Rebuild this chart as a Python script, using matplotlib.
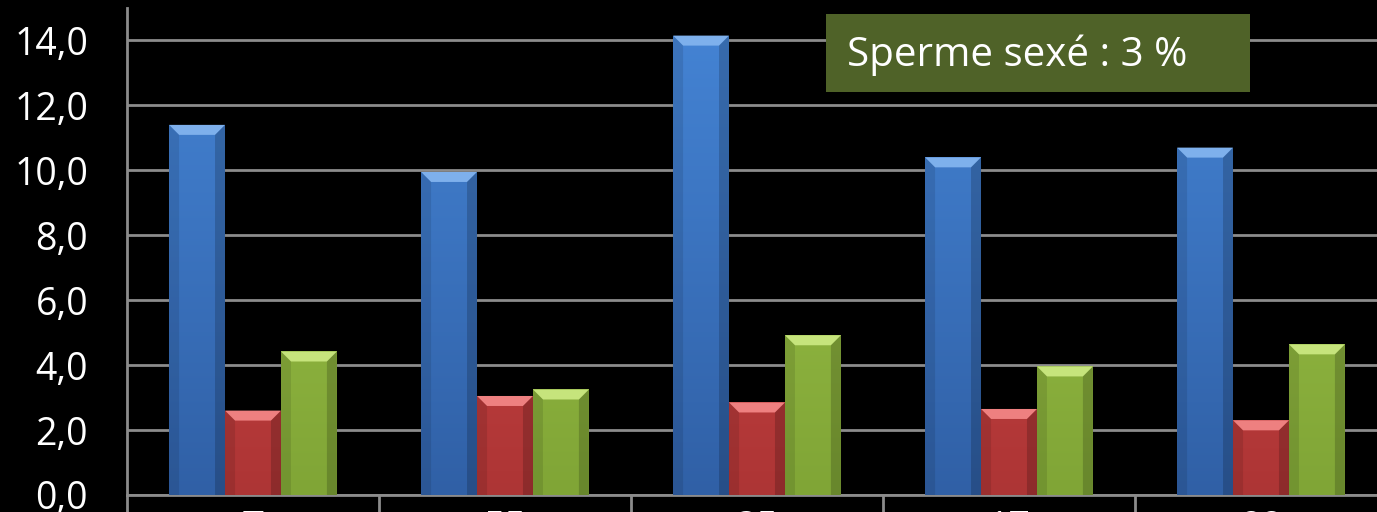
import matplotlib
matplotlib.use("Agg")
import matplotlib.pyplot as plt
from matplotlib.patches import Polygon
from matplotlib.colors import to_rgb
import numpy as np

categories = ["T", "55", "35", "17", "22"]
blue_vals = [11.4, 9.95, 14.15, 10.4, 10.7]
red_vals = [2.6, 3.05, 2.85, 2.65, 2.3]
green_vals = [4.42, 3.25, 4.92, 3.96, 4.64]
yticks = [0, 2, 4, 6, 8, 10, 12, 14]
ytick_labels = ["0,0", "2,0", "4,0", "6,0", "8,0", "10,0", "12,0", "14,0"]
annotation = "Sperme sexé : 3 %"

plt.rcParams['font.family'] = ['Open Sans', 'DejaVu Sans']

fig = plt.figure(figsize=(13.77, 5.12), dpi=100, facecolor='black')
ax = fig.add_axes([127/1377, 17/512, 1260/1377, 487/512])
ax.set_facecolor('black')

x = np.arange(len(categories))
w = 0.222
series = [
    (blue_vals, -w, '#4585d6', '#3060a6', '#7eb0ec'),
    (red_vals, 0.0, '#d84a4a', '#ad3535', '#ee8080'),
    (green_vals, w, '#a2c84c', '#80a536', '#c6e47c'),
]
ymax = 15.0
ax.set_ylim(0, ymax)
ax.set_xlim(-0.5, len(categories) - 0.5)

px_per_unit_y = 487 / ymax
bevel_h = 10 / px_per_unit_y
bevel_w = 10 / 252.0

for vals, off, ctop, cbot, light in series:
    bars = ax.bar(x + off, vals, width=w, color=ctop, edgecolor='none', zorder=3)
    c1 = np.array(to_rgb(ctop)); c2 = np.array(to_rgb(cbot))
    for b in bars:
        x0 = b.get_x(); x1 = x0 + b.get_width(); top = b.get_height()
        t = np.linspace(0, 1, 256)[:, None]
        grad = (c2[None, :] * (1 - t) + c1[None, :] * t)[:, None, :]
        im = ax.imshow(grad, extent=[x0, x1, 0, ymax], origin='lower', aspect='auto', zorder=3.5)
        im.set_clip_path(b)
        ax.add_patch(Polygon([[x0, top], [x1, top], [x1 - bevel_w, top - bevel_h], [x0 + bevel_w, top - bevel_h]],
                             closed=True, facecolor=light, edgecolor='none', zorder=4))
        ax.add_patch(Polygon([[x0, 0], [x0, top], [x0 + bevel_w, top - bevel_h], [x0 + bevel_w, 0]],
                             closed=True, facecolor='black', alpha=0.10, edgecolor='none', zorder=4))
        ax.add_patch(Polygon([[x1, 0], [x1, top], [x1 - bevel_w, top - bevel_h], [x1 - bevel_w, 0]],
                             closed=True, facecolor='black', alpha=0.18, edgecolor='none', zorder=4))

ax.set_xlim(-0.5, len(categories) - 0.5)
ax.set_ylim(0, ymax)

ax.set_yticks(yticks)
ax.set_yticklabels(ytick_labels)
ax.yaxis.grid(True, color='#8c8c8c', linewidth=2, zorder=1)
ax.tick_params(axis='y', length=0, labelsize=27, labelcolor='white', pad=28)

ax.set_xticks(x)
ax.set_xticklabels(categories)
ax.tick_params(axis='x', which='major', length=0, labelsize=27, labelcolor='white', pad=11)
ax.set_xticks(np.arange(-0.5, len(categories) + 0.5, 1.0), minor=True)
ax.tick_params(axis='x', which='minor', length=13, width=2, color='#8c8c8c', direction='out')

for s in ['top', 'right']:
    ax.spines[s].set_visible(False)
for s in ['left', 'bottom']:
    ax.spines[s].set_color('#8c8c8c')
    ax.spines[s].set_linewidth(2)
ax.set_axisbelow(True)

box_ax = fig.add_axes([826/1377, 1 - 92/512, 424/1377, 78/512])
box_ax.set_facecolor('#4f6228')
box_ax.set_xticks([]); box_ax.set_yticks([])
for s in box_ax.spines.values():
    s.set_visible(False)
box_ax.text(0.05, 0.47, annotation, transform=box_ax.transAxes, color='white',
            fontsize=29, ha='left', va='center')

fig.savefig('out.png', dpi=100, facecolor='black')
